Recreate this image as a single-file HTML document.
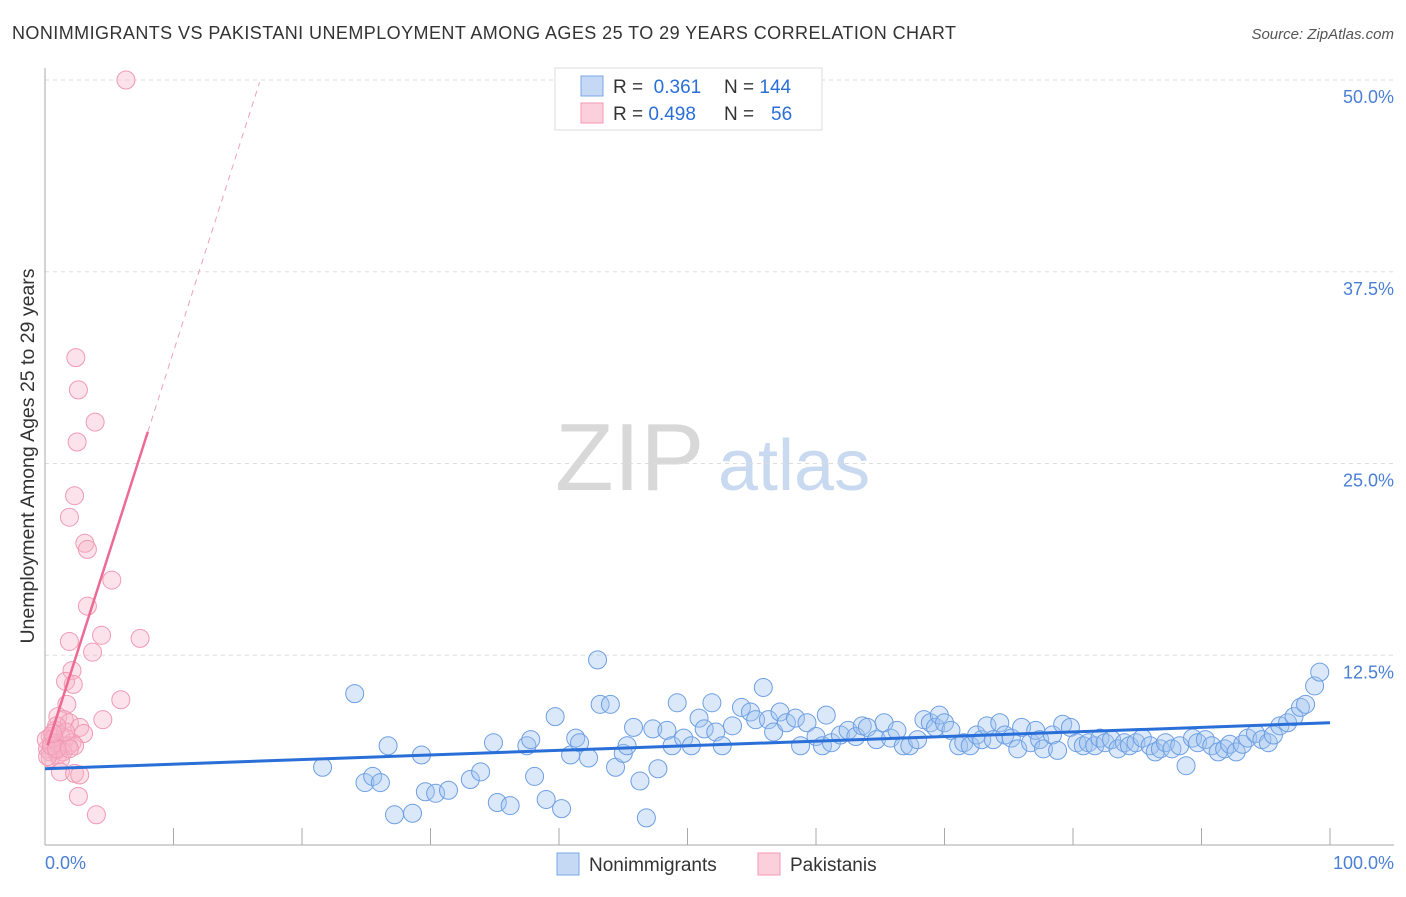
<!DOCTYPE html>
<html><head><meta charset="utf-8"><style>
body{margin:0;background:#fff;font-family:"Liberation Sans",sans-serif;}
svg text{font-family:"Liberation Sans",sans-serif;}
</style></head><body>
<svg id="chart" width="1406" height="892">
<text x="12" y="39" font-size="18" fill="#333" textLength="944">NONIMMIGRANTS VS PAKISTANI UNEMPLOYMENT AMONG AGES 25 TO 29 YEARS CORRELATION CHART</text>
<text x="1394" y="39" font-size="15" fill="#555" text-anchor="end" font-style="italic">Source: ZipAtlas.com</text>
<text x="555" y="490" font-size="96" fill="#d8d8d8" font-family="Liberation Serif, serif">ZIP</text>
<text x="718" y="490" font-size="72" fill="#c9d9f0">atlas</text>
<g id="grid"></g>
<g id="axes"></g>
<g id="marks"></g>
<text transform="translate(34,456) rotate(-90)" font-size="19.5" fill="#333" text-anchor="middle">Unemployment Among Ages 25 to 29 years</text>
<text x="45" y="869" font-size="18" fill="#4a7fd4">0.0%</text>
<text x="1394" y="869" font-size="18" fill="#4a7fd4" text-anchor="end">100.0%</text>
<g>
<rect x="555" y="68" width="267" height="62" fill="#fff" stroke="#ddd"/>
<rect x="581" y="76" width="22" height="20" fill="#c5d9f5" stroke="#7aa6e6"/>
<rect x="581" y="103" width="22" height="20" fill="#fbd0dc" stroke="#f29ab5"/>
<text x="613" y="93" font-size="19" fill="#333">R = <tspan fill="#2a6fd8">&#160;0.361</tspan><tspan x="724">N = </tspan><tspan fill="#2a6fd8">144</tspan></text>
<text x="613" y="120" font-size="19" fill="#333">R = <tspan fill="#2a6fd8">0.498</tspan><tspan x="724">N = </tspan><tspan fill="#2a6fd8" x="771">56</tspan></text>
</g>
<g>
<rect x="557" y="853" width="22" height="22" fill="#c5d9f5" stroke="#7aa6e6"/>
<text x="589" y="871" font-size="19" fill="#333">Nonimmigrants</text>
<rect x="758" y="853" width="22" height="22" fill="#fbd0dc" stroke="#f29ab5"/>
<text x="790" y="871" font-size="19" fill="#333">Pakistanis</text>
</g>
</svg>
<script>
const yTicks=[12.5,25,37.5,50];
const yTickLabels=["12.5%","25.0%","37.5%","50.0%"];
const xTicks=[10,20,30,40,50,60,70,80,90,100];
const blueX=[21.6,24.1,24.9,25.5,26.1,26.7,27.2,28.6,29.3,29.6,30.4,31.4,33.1,33.9,34.9,35.2,36.2,37.5,37.8,38.1,39.0,39.7,40.2,40.9,41.3,41.6,42.3,43.0,43.2,44.0,44.4,45.0,45.3,45.8,46.3,46.8,47.3,47.7,48.4,48.8,49.2,49.7,50.3,50.9,51.3,51.9,52.2,52.7,53.5,54.2,54.9,55.3,55.9,56.3,56.7,57.2,57.7,58.4,58.8,59.3,60.0,60.5,60.8,61.2,61.9,62.5,63.1,63.6,64.0,64.7,65.3,65.8,66.3,66.8,67.3,67.9,68.4,68.9,69.3,69.6,70.0,70.5,71.1,71.5,72.0,72.5,72.9,73.3,73.8,74.3,74.7,75.2,75.7,76.0,76.7,77.1,77.4,77.7,78.4,78.8,79.2,79.8,80.3,80.8,81.2,81.7,82.1,82.5,83.0,83.5,84.0,84.4,84.9,85.4,86.0,86.4,86.8,87.2,87.7,88.3,88.8,89.3,89.7,90.3,90.8,91.3,91.8,92.2,92.7,93.2,93.6,94.2,94.7,95.2,95.6,96.1,96.7,97.2,97.7,98.1,98.8,99.2];
const blueY=[5.2,10.0,4.2,4.6,4.2,6.6,2.1,2.2,6.0,3.6,3.5,3.7,4.4,4.9,6.8,2.9,2.7,6.6,7.0,4.6,3.1,8.5,2.5,6.0,7.1,6.8,5.8,12.2,9.3,9.3,5.2,6.1,6.6,7.8,4.3,1.9,7.7,5.1,7.6,6.6,9.4,7.1,6.6,8.4,7.7,9.4,7.5,6.6,7.9,9.1,8.8,8.3,10.4,8.3,7.5,8.8,8.1,8.4,6.6,8.1,7.2,6.6,8.6,6.8,7.3,7.6,7.2,7.9,7.8,7.0,8.1,7.1,7.6,6.6,6.6,7.0,8.3,8.1,7.8,8.6,8.1,7.6,6.6,6.8,6.6,7.3,7.0,7.9,7.0,8.1,7.3,7.1,6.4,7.8,6.8,7.6,7.0,6.4,7.3,6.3,8.0,7.8,6.8,6.6,6.8,6.6,7.1,6.8,7.0,6.4,6.8,6.6,6.8,7.1,6.6,6.2,6.4,6.8,6.4,6.6,5.3,7.1,6.8,7.0,6.6,6.2,6.4,6.7,6.2,6.7,7.1,7.4,7.0,6.8,7.3,7.9,8.1,8.5,9.1,9.3,10.5,11.4];
const pinkX=[6.3,2.4,2.6,3.9,2.5,2.3,1.9,3.1,3.3,5.2,3.3,4.4,7.4,1.9,3.7,2.1,1.6,2.2,5.9,1.7,4.5,1.0,1.5,1.9,2.7,3.0,0.8,1.2,0.4,1.6,0.5,1.3,2.1,0.2,0.9,0.4,1.0,1.8,0.1,0.7,1.4,0.4,1.2,0.2,2.3,1.6,0.9,1.2,2.3,2.7,2.6,4.0,0.5,0.9,1.9,0.6];
const pinkY=[50.0,31.9,29.8,27.7,26.4,22.9,21.5,19.8,19.4,17.4,15.7,13.8,13.6,13.4,12.7,11.5,10.8,10.6,9.6,9.3,8.3,8.5,8.3,8.1,7.8,7.4,7.6,7.3,7.2,7.1,6.8,6.6,6.8,6.4,6.3,6.2,6.0,6.6,7.0,7.1,6.2,5.8,5.7,5.9,6.6,7.5,7.9,4.9,4.8,4.7,3.3,2.1,6.6,6.4,6.4,7.4];
const blueTrend=[5.1,8.1];
const pinkTrend=[6.1,2.62];
const NS="http://www.w3.org/2000/svg";
const X0=45,X1=1330,Y0=847,Y50=80;
const sx=v=>X0+(X1-X0)*v/100;
const sy=v=>Y0-(Y0-Y50)*v/50;
function mk(tag,attrs,parent){const e=document.createElementNS(NS,tag);for(const k in attrs)e.setAttribute(k,attrs[k]);parent.appendChild(e);return e;}
const grid=document.getElementById('grid'),axes=document.getElementById('axes'),marks=document.getElementById('marks');
yTicks.forEach((t,i)=>{
  const l=mk('line',{x1:45,x2:1394,y1:sy(t),y2:sy(t),stroke:'#ddd','stroke-dasharray':'4,4'},grid);
  
  
  const tx=mk('text',{x:1394,y:sy(t)+23,'font-size':18,fill:'#4a7fd4','text-anchor':'end'},grid);
  tx.textContent=yTickLabels[i];
  
  
});
const ya=mk('line',{x1:45,x2:45,y1:68,y2:845,stroke:'#aaa'},axes);


const xa=mk('line',{x1:45,x2:1394,y1:845,y2:845,stroke:'#aaa'},axes);


xTicks.forEach(t=>{
  const l=mk('line',{x1:sx(t),x2:sx(t),y1:828,y2:845,stroke:'#aaa'},axes);
  
  
});
blueX.forEach((x,i)=>{
  const c=mk('circle',{cx:sx(x),cy:sy(blueY[i]),r:9,fill:'rgba(160,195,240,0.38)',stroke:'#6d9fe3','stroke-width':1},marks);
  
  
});
pinkX.forEach((x,i)=>{
  const c=mk('circle',{cx:sx(x),cy:sy(pinkY[i]),r:9,fill:'rgba(248,180,200,0.38)',stroke:'#f09ab4','stroke-width':1},marks);
  
  
});
const bt=mk('line',{x1:sx(0),y1:sy(blueTrend[0]),x2:sx(100),y2:sy(blueTrend[1]),stroke:'#2a6fd8','stroke-width':3},marks);


const pEnd=8,pDash=16.7;
const pt=mk('line',{x1:sx(0.2),y1:sy(pinkTrend[0]+pinkTrend[1]*0.2),x2:sx(pEnd),y2:sy(pinkTrend[0]+pinkTrend[1]*pEnd),stroke:'#ec6a94','stroke-width':2.5},marks);


const pd=mk('line',{x1:sx(pEnd),y1:sy(pinkTrend[0]+pinkTrend[1]*pEnd),x2:sx(pDash),y2:sy(pinkTrend[0]+pinkTrend[1]*pDash),stroke:'#f0a0b8','stroke-width':1,'stroke-dasharray':'6,5'},marks);


</script>
</body></html>
